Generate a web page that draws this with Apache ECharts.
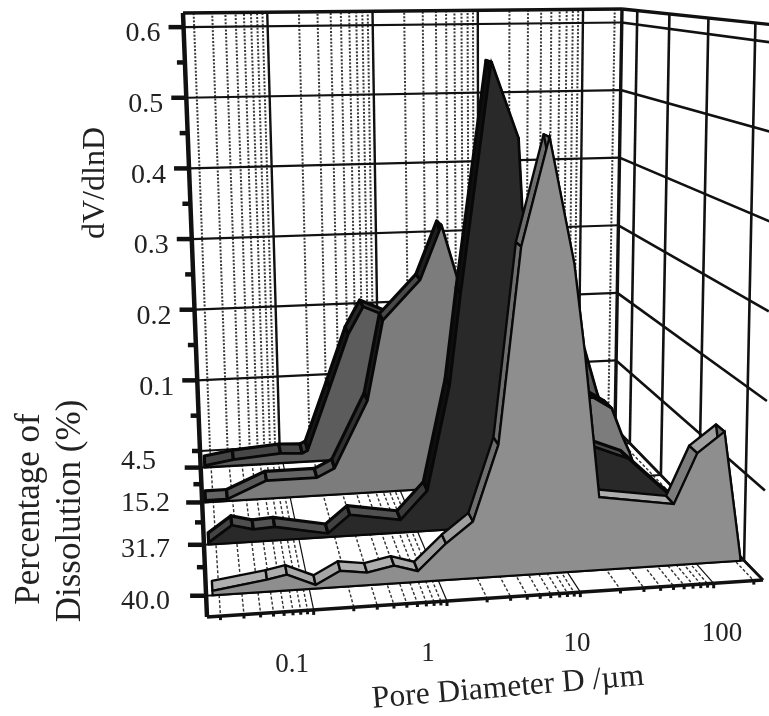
<!DOCTYPE html>
<html><head><meta charset="utf-8">
<style>html,body{margin:0;padding:0;background:#fff}#c{width:769px;height:716px}</style>
<script src="https://cdn.jsdelivr.net/npm/echarts@6/dist/echarts.min.js"></script>
</head><body><div id="c"></div>
<script>
// ---- data (log10 of pore diameter in um, dV/dlnD) ----
const logD_4_5  = [-1.76,-1.48,-1.02,-0.81,-0.757,-0.53,-0.34,-0.194,0.035,0.25,0.6,1.0,1.5,1.92,2.04,2.2];
const dV_4_5    = [0.002,0.008,0.013,0.0115,0.015,0.10,0.174,0.211,0.196,0.14,0.10,0.12,0.15,0.137,0.076,0.01];
const logD_15_2 = [-1.77,-1.57,-1.21,-0.753,-0.59,-0.28,-0.13,0.206,0.397,0.577,0.75,1.5,1.745,1.915,2.01,2.08,2.15];
const dV_15_2   = [0.002,0.002,0.023,0.023,0.034,0.12,0.224,0.275,0.345,0.252,0.23,0.11,0.109,0.093,0.056,0.033,0.003];
const logD_31_7 = [-1.76,-1.56,-1.38,-1.2,-0.753,-0.566,-0.14,0.089,0.285,0.383,0.642,0.856,0.885,1.45,1.77,2.11,2.3];
const dV_31_7   = [0.002,0.021,0.0145,0.016,0.004,0.025,0.015,0.049,0.176,0.288,0.57,0.476,0.39,0.093,0.074,0.027,0.004];
const logD_40_0 = [-1.75,-1.325,-1.17,-0.95,-0.757,-0.55,-0.34,-0.157,0.063,0.273,0.473,0.653,0.865,1.05,1.13,1.245,1.82,1.995,2.2,2.34];
const dV_40_0   = [0.005,0.0133,0.0175,0.004,0.018,0.014,0.02,0.012,0.041,0.064,0.149,0.372,0.495,0.35,0.25,0.083,0.07,0.127,0.15,0.004];

const valueTicks = [0.1,0.2,0.3,0.4,0.5,0.6];
const valueTickLabels = ['0.1','0.2','0.3','0.4','0.5','0.6'];
const valueMinorTicks = [0,0.05,0.15,0.25,0.35,0.45,0.55];
const depthLabels = ['4.5','15.2','31.7','40.0'];
const depthPositions = [0.1,0.31,0.565,0.872];
const depthMinorPositions = [0.2,0.43,0.70];
const decadeTicks = [-1,0,1,2];
const decadeLabels = ['0.1','1','10','100'];
const minorLogTicks = [];
[-2,-1,0,1,2].forEach(d=>[2,3,4,5,6,7,8,9].forEach(m=>{
  const v=d+Math.log10(m); if(v>-1.8&&v<2.37) minorLogTicks.push(v);
}));

// ---- box geometry (perspective frame) ----
const Xmin=-1.8,Xmax=2.37,Ymax=0.62;
const C={ bbl:[200,451], bbr:[615,428], btl:[183,13], btr:[622,9],
          fbl:[207,617], fbr:[763,580], ftl:[185,37], ftr:[775,25] };
const lerp=(a,b,t)=>[a[0]+(b[0]-a[0])*t,a[1]+(b[1]-a[1])*t];
function project(X,Y,Z){
  const u=(X-Xmin)/(Xmax-Xmin), v=Y/Ymax;
  const bb=lerp(C.bbl,C.bbr,u), bt=lerp(C.btl,C.btr,u);
  const fb=lerp(C.fbl,C.fbr,u), ft=lerp(C.ftl,C.ftr,u);
  return lerp(lerp(bb,fb,Z),lerp(bt,ft,Z),v);
}
const BAND=0.06;

function lineEl(api,a,b,style){
  const p=api.coord(a),q=api.coord(b);
  return {type:'line',shape:{x1:p[0],y1:p[1],x2:q[0],y2:q[1]},style:Object.assign({fill:null},style)};
}
const solid=w=>({stroke:'#111',lineWidth:w});
const dotted={stroke:'#3a3a3a',lineWidth:2,lineDash:[2,1.6]};

function simple(name,data,fn){
  return {type:'custom',name,coordinateSystem:'cartesian2d',clip:false,silent:true,
    data:data.map(d=>[d,0]),encode:{x:0,y:1},animation:false,
    renderItem:(params,api)=>({type:'group',children:fn(api,api.value(0))})};
}
function grey(a,b,t){const g=Math.round(a+(b-a)*t);return 'rgb('+g+','+g+','+g+')';}
function ribbonSeries(name,logD,dV,Z,fillColor,bandFlat,bandSteep,bandW,fillW){
  const rows=logD.map((d,i)=>[d,dV[i]]);
  return {type:'custom',name,coordinateSystem:'cartesian2d',clip:false,silent:true,
    data:rows,encode:{x:0,y:1},animation:false,
    renderItem:(params,api)=>{
      if(params.dataIndex!==0) return null;
      const kids=[];
      const pt=(X,Y,z)=>api.coord(project(X,Y,z));
      for(let i=0;i<rows.length-1;i++){
        const a=rows[i],b=rows[i+1];
        const slope=Math.abs((b[1]-a[1])/(b[0]-a[0]));
        kids.push({type:'polygon',shape:{points:[pt(a[0],a[1],Z),pt(b[0],b[1],Z),pt(b[0],b[1],Z-BAND),pt(a[0],a[1],Z-BAND)]},
          style:{fill:grey(bandFlat,bandSteep,Math.min(1,slope/0.4)),stroke:'#080808',lineWidth:bandW,lineJoin:'round'}});
      }
      const pts=rows.map(r=>pt(r[0],r[1],Z));
      pts.push(pt(rows[rows.length-1][0],0,Z));
      pts.push(pt(rows[0][0],0,Z));
      kids.push({type:'polygon',shape:{points:pts},style:{fill:fillColor,stroke:'#080808',lineWidth:fillW,lineJoin:'miter'}});
      return {type:'group',children:kids};
    }};
}

const series=[
  simple('backMinor',minorLogTicks,(api,X)=>[lineEl(api,project(X,0,0),project(X,Ymax,0),dotted)]),
  simple('floorMinor',minorLogTicks,(api,X)=>[lineEl(api,project(X,0,0),project(X,0,1),{stroke:'#333',lineWidth:1.4,lineDash:[3,2]})]),
  simple('backDecade',decadeTicks,(api,X)=>[
    lineEl(api,project(X,0,0),project(X,Ymax,0),solid(2.4)),
    lineEl(api,project(X,0,0),project(X,0,1),solid(1.2))]),
  simple('valueGrid',[0].concat(valueTicks),(api,Y)=>[
    lineEl(api,project(Xmin,Y,0),project(Xmax,Y,0),solid(2.2)),
    lineEl(api,project(Xmax,Y,0),project(Xmax,Y,1),solid(2.6))]),
  simple('depthGrid',depthPositions,(api,Z)=>[
    lineEl(api,project(Xmin,0,Z),project(Xmax,0,Z),solid(2)),
    lineEl(api,project(Xmax,0,Z),project(Xmax,Ymax,Z),solid(2.6))]),
  simple('frame',[0],(api)=>[
    lineEl(api,project(Xmax,0,0),project(Xmax,Ymax,0),solid(3.4)),
    lineEl(api,project(Xmin,Ymax,0),project(Xmax,Ymax,0),solid(3.4)),
    lineEl(api,project(Xmax,Ymax,0),project(Xmax,Ymax,1),solid(3.4)),
    lineEl(api,project(Xmax,0,0),project(Xmax,0,1),solid(2.4)),
  ]),
  ribbonSeries('4.5',logD_4_5,dV_4_5,depthPositions[0],'#5c5c5c',72,20,3.2,2.4),
  ribbonSeries('15.2',logD_15_2,dV_15_2,depthPositions[1],'#7c7c7c',100,25,3.2,2.2),
  ribbonSeries('31.7',logD_31_7,dV_31_7,depthPositions[2],'#292929',85,15,3.2,2.2),
  ribbonSeries('40.0',logD_40_0,dV_40_0,depthPositions[3],'#8e8e8e',178,110,2.4,2.2),
  simple('axisLines',[0],(api)=>[
    lineEl(api,project(Xmin,Ymax,0),project(Xmin,0,0),solid(4.5)),
    lineEl(api,project(Xmin,0,0),project(Xmin,0,1),solid(4.5)),
    lineEl(api,project(Xmin,0,1),project(Xmax,0,1),solid(3.5)),
  ]),
  simple('valueMajor',valueTicks,(api,Y)=>{const p=project(Xmin,Y,0);return [lineEl(api,p,[p[0]-15,p[1]],solid(4.5))];}),
  simple('valueMinor',valueMinorTicks,(api,Y)=>{const p=project(Xmin,Y,0);return [lineEl(api,p,[p[0]-8,p[1]],solid(4.5))];}),
  simple('depthMajor',depthPositions,(api,Z)=>{const p=project(Xmin,0,Z);return [lineEl(api,p,[p[0]-16,p[1]],solid(4.5))];}),
  simple('depthMinor',depthMinorPositions,(api,Z)=>{const p=project(Xmin,0,Z);return [lineEl(api,p,[p[0]-8,p[1]],solid(4.5))];}),
  simple('floorMinorTicks',minorLogTicks,(api,X)=>{const p=project(X,0,1);return [lineEl(api,p,[p[0],p[1]+4],solid(3))];}),
  simple('floorMajorTicks',decadeTicks,(api,X)=>{const p=project(X,0,1);return [lineEl(api,p,[p[0],p[1]+5],solid(3))];}),
];

const FONT='"Liberation Serif","Times New Roman",serif';
const txt=(text,x,y,size,align,rot)=>({type:'text',x,y,rotation:rot||0,silent:true,
  style:{text,fill:'#222',font:size+'px '+FONT,align:align||'center',verticalAlign:'middle'}});
const graphics=[];
valueTicks.forEach((Y,i)=>{const p=project(Xmin,Y,0);graphics.push(txt(valueTickLabels[i],p[0]-23,p[1]+7,28,'right'));});
const depthLabelY=[462,504,550,602];
depthLabels.forEach((t,i)=>graphics.push(txt(t,121,depthLabelY[i],28,'left')));
const decadeLabelXY=[[292,665],[428,654],[577,644],[722,634]];
decadeLabels.forEach((t,i)=>graphics.push(txt(t,decadeLabelXY[i][0],decadeLabelXY[i][1],27,'center')));
graphics.push(txt('dV/dlnD',96,183,32,'center',Math.PI/2));
graphics.push(txt('Percentage of',30,509,35,'center',Math.PI/2));
graphics.push(txt('Dissolution (%)',71,511,35,'center',Math.PI/2));
graphics.push(txt('Pore Diameter D /\u00b5m',508,688,31.5,'center',0.085));

const chart=echarts.init(document.getElementById('c'),null,{renderer:'canvas'});
chart.setOption({
  animation:false,backgroundColor:'#fff',
  grid:{left:0,right:0,top:0,bottom:0},
  xAxis:{type:'value',min:0,max:769,show:false},
  yAxis:{type:'value',min:0,max:716,inverse:true,show:false},
  series,
  graphic:{elements:graphics}
});
</script></body></html>
